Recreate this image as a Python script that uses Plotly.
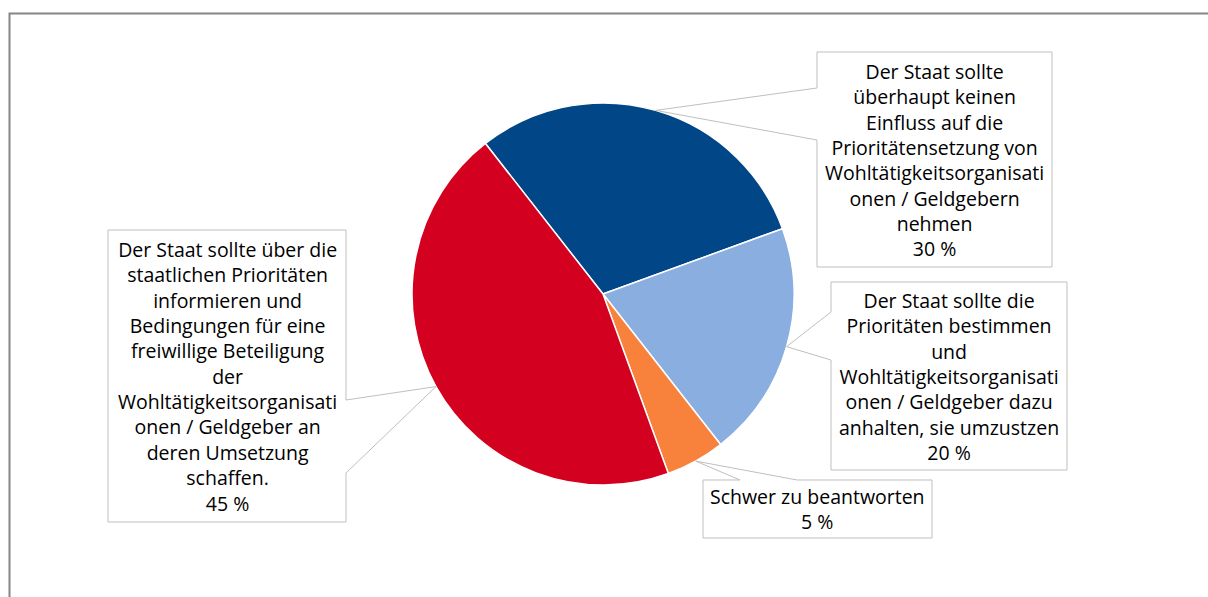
import math
import plotly.graph_objects as go

# ---- data ----
labels = [
    "Der Staat sollte<br>überhaupt keinen<br>Einfluss auf die<br>Prioritätensetzung von<br>Wohltätigkeitsorganisati<br>onen / Geldgebern<br>nehmen",
    "Der Staat sollte die<br>Prioritäten bestimmen<br>und<br>Wohltätigkeitsorganisati<br>onen / Geldgeber dazu<br>anhalten, sie umzustzen",
    "Schwer zu beantworten",
    "Der Staat sollte über die<br>staatlichen Prioritäten<br>informieren und<br>Bedingungen für eine<br>freiwillige Beteiligung<br>der<br>Wohltätigkeitsorganisati<br>onen / Geldgeber an<br>deren Umsetzung<br>schaffen.",
]
values = [30, 20, 5, 45]
colors = ["#014686", "#8aaee0", "#f8813c", "#d3001f"]

# ---- layout constants (pixels) ----
W, H = 1208, 597
CX, CY, R = 603, 294, 191
ROTATION = -38

# label boxes: x0, y0, x1, y1 ; wedge base points on box edge
boxes = [
    dict(box=(817, 52, 1052, 267), base=[(817, 140), (817, 88)]),
    dict(box=(831, 282, 1067, 470), base=[(831, 312), (831, 360)]),
    dict(box=(703, 480, 932, 538), base=[(797, 480), (740, 480)]),
    dict(box=(108, 230, 346, 522), base=[(346, 400), (346, 473)]),
]


def px(x):
    return x / W


def py(y):
    return 1 - y / H


fig = go.Figure()
fig.add_trace(go.Pie(
    labels=[l.replace("<br>", " ") for l in labels],
    values=values,
    marker=dict(colors=colors, line=dict(color="white", width=1.5)),
    sort=False,
    direction="clockwise",
    rotation=ROTATION,
    textinfo="none",
    hoverinfo="label+percent",
    domain=dict(x=[px(CX - R), px(CX + R)], y=[py(CY + R), py(CY - R)]),
    showlegend=False,
))

shapes = []
annotations = []
total = sum(values)
cum = 0
for lab, v, b in zip(labels, values, boxes):
    mid = ROTATION + (cum + v / 2) / total * 360
    cum += v
    a = math.radians(mid)
    tx = CX + R * math.sin(a)
    ty = CY - R * math.cos(a)
    x0, y0, x1, y1 = b["box"]
    (bx1, by1), (bx2, by2) = b["base"]
    # callout path: box outline with a wedge to the slice
    if bx1 == x0:  # wedge on left edge
        pts = [(x0, y0), (x1, y0), (x1, y1), (x0, y1), (x0, max(by1, by2)), (tx, ty), (x0, min(by1, by2))]
    elif bx1 == x1:  # wedge on right edge
        pts = [(x1, y1), (x0, y1), (x0, y0), (x1, y0), (x1, min(by1, by2)), (tx, ty), (x1, max(by1, by2))]
    else:  # wedge on top edge
        pts = [(x0, y0), (x0, y1), (x1, y1), (x1, y0), (max(bx1, bx2), y0), (tx, ty), (min(bx1, bx2), y0)]
    path = "M " + " L ".join(f"{px(x):.5f},{py(y):.5f}" for x, y in pts) + " Z"
    shapes.append(dict(type="path", xref="paper", yref="paper", path=path,
                       fillcolor="white", line=dict(color="#bfbfbf", width=1), layer="above"))
    annotations.append(dict(
        x=px((x0 + x1) / 2), y=py((y0 + y1) / 2), xref="paper", yref="paper",
        xanchor="center", yanchor="middle", showarrow=False, align="center",
        text=f"{lab}<br>{v} %",
        font=dict(family="Open Sans", size=19.5, color="#000000"),
    ))

# outer chart frame (top and left edges visible)
shapes.insert(0, dict(type="path", xref="paper", yref="paper",
                      path=f"M {px(9.5):.5f},{py(600):.5f} L {px(9.5):.5f},{py(13.5):.5f} L {px(1212):.5f},{py(13.5):.5f}",
                      line=dict(color="#858585", width=2), layer="above"))

fig.update_layout(
    width=W, height=H,
    margin=dict(l=0, r=0, t=0, b=0),
    paper_bgcolor="white",
    plot_bgcolor="white",
    shapes=shapes,
    annotations=annotations,
    showlegend=False,
)

fig.write_html(
    "out.html",
    config={"displayModeBar": False},
    post_script="document.body.style.margin='0';document.body.style.padding='0';document.body.style.overflow='hidden';",
)
